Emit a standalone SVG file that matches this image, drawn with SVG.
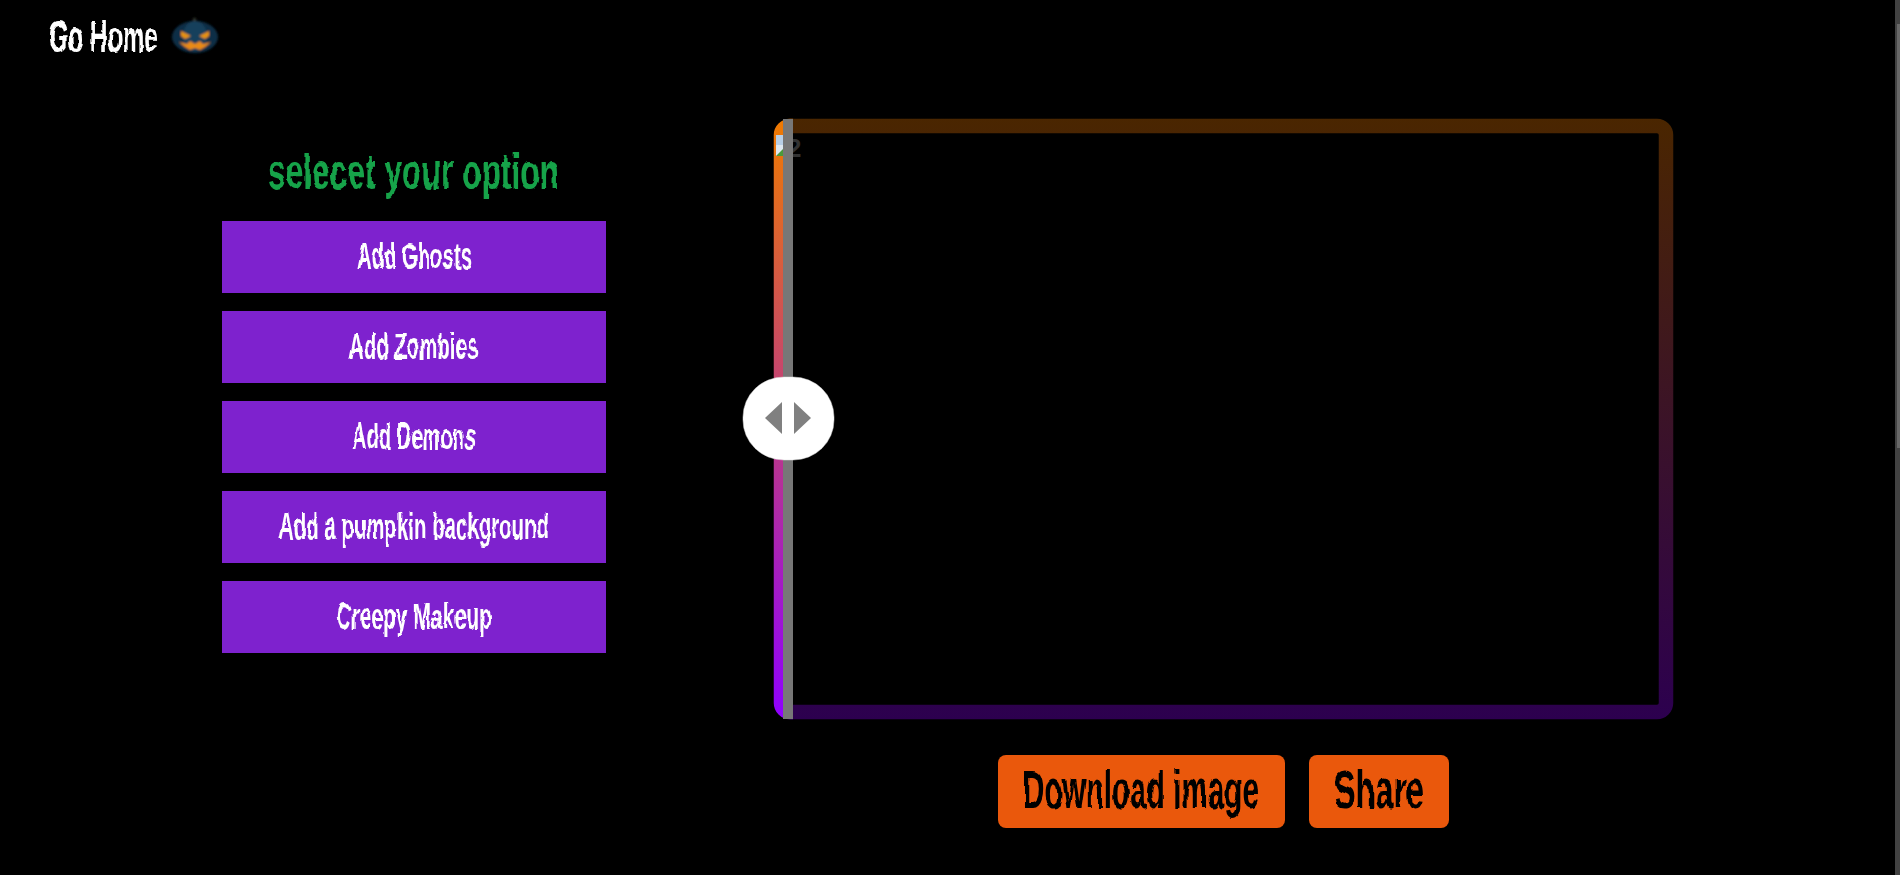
<svg xmlns="http://www.w3.org/2000/svg" width="1900" height="875" viewBox="0 0 1900 875">
  <style>
    text { font-family: "Liberation Sans Narrow", "Liberation Sans", sans-serif; font-weight: bold; text-anchor: start; }
    .creep { filter: url(#wobble); }
    .opt { fill: #7e22ce; }
    .optl { fill: #fff; font-size: 36px; }
    .act { fill: #ea580c; }
    .actl { fill: #000; font-size: 40px; }
    .tri { fill: #808080; }
  </style>
  <defs>
    <linearGradient id="frameGrad" gradientUnits="userSpaceOnUse" x1="0" y1="119" x2="0" y2="719">
      <stop offset="0" stop-color="#ef7a00"/>
      <stop offset="1" stop-color="#8f00ff"/>
    </linearGradient>
    <filter id="wobble" x="-5%" y="-20%" width="110%" height="140%">
      <feTurbulence type="fractalNoise" baseFrequency="0.07" numOctaves="2" seed="4"/>
      <feDisplacementMap in="SourceGraphic" scale="4.5" xChannelSelector="R" yChannelSelector="G"/>
    </filter>
    <filter id="soft" x="-10%" y="-10%" width="120%" height="120%">
      <feGaussianBlur stdDeviation="0.9"/>
    </filter>
    <clipPath id="leftOf"><rect x="770" y="115" width="23" height="610"/></clipPath>
    <clipPath id="rightOf"><rect x="793" y="115" width="890" height="610"/></clipPath>
  </defs>
  <rect id="page" width="1900" height="875" fill="#000"/>

  <g id="scrollbar">
    <rect x="1895" y="0" width="5" height="875" fill="#424242"/>
    <rect x="1897" y="24" width="3" height="424" fill="#686868"/>
  </g>

  <g id="go-home">
    <text class="creep" x="49" y="52" font-size="44" fill="#fff" textLength="109" lengthAdjust="spacingAndGlyphs">Go Home</text>
    <g id="pumpkin-icon" filter="url(#soft)">
      <rect x="193" y="18" width="3" height="9" fill="#33382f"/>
      <ellipse cx="195" cy="37" rx="23" ry="16" fill="#0f2f47"/>
      <ellipse cx="195" cy="36" rx="12" ry="15" fill="#16405c"/>
      <path d="M181 31 L191 36 L185 39 L181 36 Z" fill="#e8920f"/>
      <path d="M209 31 L199 36 L205 39 L209 36 Z" fill="#e8920f"/>
      <path d="M179 42 L187 44 L190 41 L195 44 L200 41 L203 44 L211 42 L205 47 L200 50 L195 48 L190 50 L185 47 Z" fill="#ea8a12"/>
    </g>
  </g>

  <g id="title">
    <text class="creep" x="268" y="189" font-size="50" fill="#16a34a" textLength="291" lengthAdjust="spacingAndGlyphs">selecet your option</text>
  </g>

  <g id="opt-ghosts">
    <rect class="opt" x="222" y="221" width="384" height="72"/>
    <text class="optl creep" x="357" y="269" textLength="115" lengthAdjust="spacingAndGlyphs">Add Ghosts</text>
  </g>
  <g id="opt-zombies">
    <rect class="opt" x="222" y="311" width="384" height="72"/>
    <text class="optl creep" x="349" y="359" textLength="129" lengthAdjust="spacingAndGlyphs">Add Zombies</text>
  </g>
  <g id="opt-demons">
    <rect class="opt" x="222" y="401" width="384" height="72"/>
    <text class="optl creep" x="352" y="449" textLength="124" lengthAdjust="spacingAndGlyphs">Add Demons</text>
  </g>
  <g id="opt-pumpkin">
    <rect class="opt" x="222" y="491" width="384" height="72"/>
    <text class="optl creep" x="279" y="539" textLength="270" lengthAdjust="spacingAndGlyphs">Add a pumpkin background</text>
  </g>
  <g id="opt-makeup">
    <rect class="opt" x="222" y="581" width="384" height="72"/>
    <text class="optl creep" x="336" y="629" textLength="156" lengthAdjust="spacingAndGlyphs">Creepy Makeup</text>
  </g>

  <g id="compare-frame">
    <g clip-path="url(#leftOf)">
      <rect x="781" y="126" width="885" height="586" rx="9" fill="none" stroke="url(#frameGrad)" stroke-width="14.5"/>
    </g>
    <g clip-path="url(#rightOf)" opacity="0.31">
      <rect x="781" y="126" width="885" height="586" rx="9" fill="none" stroke="url(#frameGrad)" stroke-width="14.5"/>
    </g>
    <g id="broken-image">
      <rect x="776" y="135" width="8" height="21" fill="#dfe8f0"/>
      <rect x="776" y="135" width="8" height="10" fill="#b9cfe6"/>
      <path d="M776 156 L784 148 L784 156 Z" fill="#4c9a3a"/>
      <text x="787" y="157" font-size="26" fill="#333" style="font-family:'Liberation Sans',sans-serif">2</text>
    </g>
  </g>

  <g id="slider-handle">
    <rect x="783" y="119" width="10" height="600" fill="#777"/>
    <rect x="743" y="377" width="91" height="83" rx="41" ry="40" fill="#fff" stroke="#ddd" stroke-width="0.5"/>
    <path class="tri" d="M782 402 L782 434 L765 418 Z"/>
    <path class="tri" d="M794 402 L794 434 L811 418 Z"/>
  </g>

  <g id="btn-download">
    <rect class="act" x="998" y="755" width="287" height="73" rx="8"/>
    <text class="actl creep" transform="translate(1023 808) scale(1 1.32)" x="0" y="0" textLength="236" lengthAdjust="spacingAndGlyphs">Download image</text>
  </g>
  <g id="btn-share">
    <rect class="act" x="1309" y="755" width="140" height="73" rx="8"/>
    <text class="actl creep" transform="translate(1334 808) scale(1 1.32)" x="0" y="0" textLength="90" lengthAdjust="spacingAndGlyphs">Share</text>
  </g>
</svg>
